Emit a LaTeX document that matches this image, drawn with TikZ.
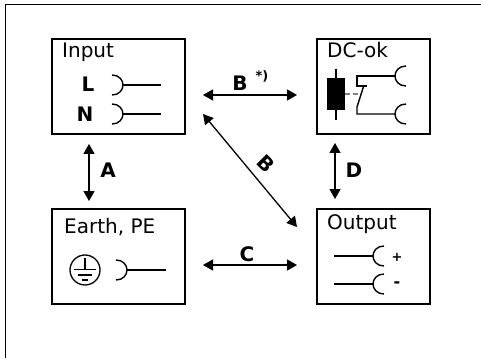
\documentclass[tikz,border=0pt]{standalone}
\usepackage{fontspec}
\setmainfont{DejaVu Sans}
\usetikzlibrary{arrows.meta}
\tikzset{
  x=1pt,y=-1pt,
  blockbox/.style={draw=black,line width=1.5pt,minimum width=#1,minimum height=95pt,inner sep=0pt,anchor=north west},
  wire/.style={draw=black,line width=1.4pt},
  biarrow/.style={draw=black,line width=1.3pt,{Triangle[length=10pt,width=11pt]}-{Triangle[length=10pt,width=11pt]}},
  title/.style={font=\fontsize{20}{22}\selectfont,inner sep=0pt,anchor=base west},
  letter/.style={font=\bfseries\fontsize{20}{22}\selectfont,inner sep=0pt},
  small/.style={font=\bfseries\fontsize{13}{14}\selectfont,inner sep=0pt},
  arcL/.pic={\draw[wire] (-11,-10) .. controls (-4,-10) and (0,-5) .. (0,0) .. controls (0,5) and (-4,10) .. (-11,10);},
  arcR/.pic={\draw[wire] (11,-10) .. controls (4,-10) and (0,-5) .. (0,0) .. controls (0,5) and (4,10) .. (11,10);},
}
\begin{document}
\begin{tikzpicture}
\useasboundingbox (0,0) rectangle (481,358);
\fill[white] (0,0) rectangle (481,358);
\draw[black,line width=1pt] (481,4.5) -- (5.5,4.5) -- (5.5,358);
% boxes
\node[blockbox=133pt] (input) at (51,38.5) {};
\node[blockbox=113pt] (dcok) at (316,38.5) {};
\node[blockbox=133pt] (earth) at (51,208) {};
\node[blockbox=113pt] (output) at (316,208) {};
% titles
\node[title] (tinput) at (62,58) {Input};
\node[title] (tdcok) at (327,58) {DC-ok};
\node[title] (tearth) at (64,233) {Earth, PE};
\node[title] (toutput) at (327,229) {Output};
% input terminals
\node[letter] (lL) at (88,84) {L};
\node[letter] (lN) at (85,114) {N};
\pic at (123,85) {arcL};
\pic at (123,114) {arcL};
\draw[wire] (123,85) -- (161,85);
\draw[wire] (123,114) -- (161,114);
% earth
\node[draw=black,line width=1.3pt,circle,minimum size=30pt,inner sep=0pt] (pe) at (85,270) {};
\draw[line width=1.1pt] (85,258) -- (85,269.5);
\draw[line width=1.1pt] (74,269.5) -- (96,269.5);
\draw[line width=1.1pt] (78,275) -- (92,275);
\draw[line width=2.2pt] (82,280) -- (88,280);
\pic at (127,270) {arcL};
\draw[wire] (127,270) -- (166,270);
% output
\pic at (373,256) {arcR};
\pic at (373,284) {arcR};
\draw[wire] (334,256) -- (373,256);
\draw[wire] (334,284) -- (373,284);
\node[small] (plus) at (397,257) {+};
\node[small,font=\bfseries\fontsize{16}{16}\selectfont] (minus) at (397,285) {-};
% dc-ok
\fill[black] (327,78) rectangle (345,110);
\draw[line width=1.1pt] (336,69) -- (336,120);
\draw[gray,line width=1.1pt,dash pattern=on 5pt off 2.5pt] (345,94) -- (360,94);
\pic at (395,76) {arcR};
\pic at (395,114) {arcR};
\draw[wire] (395,76) -- (357,76) -- (357,86) -- (367,86);
\draw[wire] (395,114) -- (357,114) -- (357,107) -- (364,85);
% arrows
\coordinate (bl) at (203,95); \coordinate (br) at (297,95);
\coordinate (al) at (89,144); \coordinate (ar) at (89,201);
\coordinate (dl) at (335,143); \coordinate (dr) at (335,199);
\coordinate (cl) at (203,265); \coordinate (cr) at (297,265);
\coordinate (xl) at (203,114); \coordinate (xr) at (297,227);
\draw[biarrow] (bl) -- (br);
\draw[biarrow] (al) -- (ar);
\draw[biarrow] (dl) -- (dr);
\draw[biarrow] (cl) -- (cr);
\draw[biarrow] (xl) -- (xr);
% labels
\node[letter] (lb) at (240,83) {B};
\node[small] (star) at (262,76) {*)};
\node[letter] (la) at (108,170) {A};
\node[letter] (ld) at (354,170) {D};
\node[letter] (lc) at (247,254) {C};
\node[letter,rotate=-45] (lbd) at (266,163.5) {B};
\end{tikzpicture}
\end{document}
